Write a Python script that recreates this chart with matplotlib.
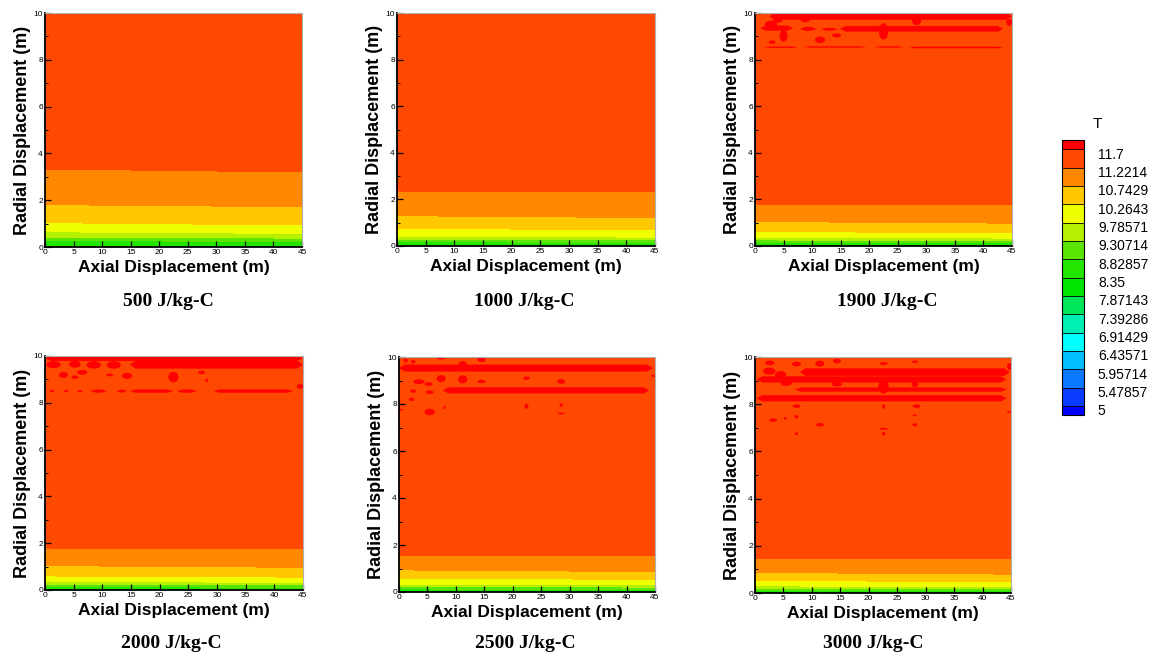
import numpy as np
import matplotlib
matplotlib.use("Agg")
import matplotlib.pyplot as plt
import matplotlib.transforms as mtransforms
from matplotlib.patches import Ellipse

plt.rcParams['font.family'] = ['Liberation Sans', 'DejaVu Sans']

# niveles de contorno y colores (estilo Tecplot)
levels = [5, 5.47857, 5.95714, 6.43571, 6.91429, 7.39286, 7.87143, 8.35,
          8.82857, 9.30714, 9.78571, 10.2643, 10.7429, 11.2214, 11.7]
level_labels = ['5', '5.47857', '5.95714', '6.43571', '6.91429', '7.39286',
                '7.87143', '8.35', '8.82857', '9.30714', '9.78571', '10.2643',
                '10.7429', '11.2214', '11.7']
band_colors = ['#0000ff', '#0a3cff', '#0a78ff', '#00beff', '#00ffff', '#00f0b4',
               '#00e65a', '#00e600', '#22e600', '#5ae600', '#b4f000', '#f0ff00',
               '#ffc800', '#ff8800', '#ff4800', '#ff0000']

cases = ['500 J/kg-C', '1000 J/kg-C', '1900 J/kg-C',
         '2000 J/kg-C', '2500 J/kg-C', '3000 J/kg-C']

# eje axial (m) y temperaturas en las fronteras
x_ends = [0, 45]
crossing_T = [11.2214, 10.7429, 10.2643, 9.78571, 9.30714, 8.82857]
T_wall = 8.6
T_far = 11.5

# alturas (m) donde T cruza cada nivel, en x=0 y x=45
h_left = {
    '500 J/kg-C': [3.33, 1.81, 1.04, 0.65, 0.42, 0.27],
    '1000 J/kg-C': [2.37, 1.30, 0.76, 0.42, 0.30, 0.18],
    '1900 J/kg-C': [1.82, 1.05, 0.62, 0.38, 0.26, 0.15],
    '2000 J/kg-C': [1.81, 1.04, 0.60, 0.36, 0.25, 0.14],
    '2500 J/kg-C': [1.58, 0.94, 0.58, 0.33, 0.23, 0.13],
    '3000 J/kg-C': [1.49, 0.87, 0.53, 0.30, 0.21, 0.12],
}
h_right = {
    '500 J/kg-C': [3.22, 1.72, 0.94, 0.58, 0.38, 0.24],
    '1000 J/kg-C': [2.30, 1.22, 0.69, 0.38, 0.27, 0.16],
    '1900 J/kg-C': [1.75, 0.98, 0.57, 0.34, 0.23, 0.13],
    '2000 J/kg-C': [1.74, 0.97, 0.55, 0.33, 0.22, 0.12],
    '2500 J/kg-C': [1.52, 0.87, 0.54, 0.30, 0.21, 0.11],
    '3000 J/kg-C': [1.42, 0.80, 0.48, 0.28, 0.19, 0.10],
}

# zonas calientes (T > 11.7): franjas (x0, x1, y, alto) y manchas (x, y, ancho, alto)
streaks = {
    '1900 J/kg-C': [(2.5, 45, 9.86, 0.3), (14.9, 43.5, 9.32, 0.24), (0.9, 6.7, 9.35, 0.22),
                    (7.9, 10.8, 9.32, 0.18), (11.5, 14.5, 9.3, 0.12),
                    (1.5, 7.5, 8.53, 0.06), (8.5, 19.5, 8.54, 0.06),
                    (21, 26, 8.54, 0.06), (27, 43.5, 8.52, 0.07)],
    '2000 J/kg-C': [(0, 45, 9.9, 0.22), (14.8, 45, 9.63, 0.34), (7.9, 10.8, 8.5, 0.14),
                    (12.5, 14.3, 8.5, 0.12), (14.8, 22.4, 8.5, 0.14),
                    (23, 26.5, 8.5, 0.14), (29.4, 43.3, 8.5, 0.14)],
    '2500 J/kg-C': [(0, 44.6, 9.53, 0.3), (7.7, 44, 8.58, 0.26)],
    '3000 J/kg-C': [(7.9, 44.8, 9.36, 0.32), (0.3, 44.2, 9.05, 0.26),
                    (7.0, 44.2, 8.62, 0.18), (0.3, 44.2, 8.25, 0.26)],
}
blobs = {
    '1900 J/kg-C': [(22.5, 9.21, 1.6, 0.7), (28.3, 9.68, 1.6, 0.4), (11.4, 8.85, 1.8, 0.28),
                    (5.0, 9.02, 1.4, 0.5), (14.3, 9.04, 1.6, 0.18), (2.8, 9.5, 2.2, 0.35),
                    (4.0, 9.7, 1.6, 0.25), (8.8, 9.75, 1.8, 0.3), (3.0, 8.75, 1.2, 0.15),
                    (44.5, 9.6, 1.0, 0.3)],
    '2000 J/kg-C': [(1.5, 9.63, 2.5, 0.3), (5.2, 9.65, 2.0, 0.3), (8.5, 9.62, 2.5, 0.32),
                    (12.0, 9.62, 2.5, 0.32), (3.2, 9.19, 1.6, 0.25), (5.2, 9.1, 1.2, 0.15),
                    (6.5, 9.3, 1.8, 0.2), (11.3, 9.19, 1.2, 0.12), (14.3, 9.15, 1.8, 0.25),
                    (22.4, 9.1, 1.8, 0.45), (27.3, 9.3, 1.2, 0.15), (28.2, 8.95, 0.5, 0.15),
                    (1.2, 8.5, 0.8, 0.1), (3.7, 8.5, 0.8, 0.1), (6.1, 8.5, 0.8, 0.1),
                    (44.5, 8.7, 1.2, 0.2), (26.5, 9.88, 2.5, 0.3)],
    '2500 J/kg-C': [(7.4, 9.97, 1.6, 0.15), (14.5, 9.9, 1.4, 0.25), (11.2, 9.7, 1.4, 0.25),
                    (2.5, 9.8, 0.8, 0.15), (7.4, 9.08, 1.6, 0.3), (11.2, 9.05, 1.6, 0.35),
                    (14.5, 8.96, 1.4, 0.15), (22.4, 9.1, 1.2, 0.15), (28.5, 8.96, 1.4, 0.2),
                    (3.5, 8.95, 2.0, 0.2), (5.2, 8.85, 1.4, 0.15), (2.5, 8.55, 1.0, 0.15),
                    (5.4, 8.5, 1.4, 0.15), (2.2, 8.2, 1.0, 0.15), (5.4, 7.66, 1.8, 0.28),
                    (0.3, 7.75, 0.8, 0.08), (22.4, 7.9, 0.7, 0.2), (28.5, 7.95, 0.6, 0.15),
                    (28.5, 7.6, 1.2, 0.08), (8.0, 7.85, 0.4, 0.15), (44.8, 9.2, 0.8, 0.1),
                    (1.2, 9.85, 0.8, 0.15)],
    '3000 J/kg-C': [(2.6, 9.75, 1.6, 0.2), (7.3, 9.7, 1.6, 0.2), (11.4, 9.72, 1.6, 0.25),
                    (14.4, 9.83, 1.4, 0.2), (22.6, 9.72, 1.4, 0.12), (28.1, 9.8, 1.2, 0.1),
                    (2.5, 9.4, 2.2, 0.3), (4.5, 9.25, 2.0, 0.3), (5.5, 8.9, 2.0, 0.25),
                    (14.4, 8.85, 1.8, 0.2), (22.6, 8.75, 1.8, 0.6), (28.1, 8.85, 1.2, 0.25),
                    (7.3, 7.92, 1.4, 0.15), (22.6, 7.9, 0.5, 0.2), (28.4, 7.92, 1.4, 0.15),
                    (28.1, 7.53, 0.8, 0.06), (3.2, 7.32, 1.4, 0.15), (5.3, 7.4, 0.5, 0.1),
                    (7.3, 7.47, 0.7, 0.15), (11.4, 7.13, 1.4, 0.15), (28.1, 7.13, 0.9, 0.12),
                    (22.6, 6.96, 1.5, 0.08), (7.3, 6.75, 0.6, 0.12), (22.6, 6.75, 0.6, 0.15),
                    (44.8, 7.67, 1.0, 0.08), (44.8, 9.6, 1.0, 0.3)],
}

# posiciones de los paneles en pixeles: izquierda, arriba, derecha, abajo
W, H = 1158, 661
panel_px = [(45, 13, 302, 247), (397, 13, 655, 246), (755, 13, 1012, 246),
            (45, 356, 303, 590), (399, 357, 655, 592), (755, 357, 1011, 593)]
caption_px = [(168, 301), (524, 301), (887, 301), (171, 643), (525, 643), (873, 643)]

fig = plt.figure(figsize=(W / 100, H / 100), dpi=100)
cs = None
for case, (l, t, r, b), (cx, cy) in zip(cases, panel_px, caption_px):
    ax = fig.add_axes([l / W, 1 - b / H, (r - l) / W, (b - t) / H])

    # malla curvilinea de 2 columnas: filas en las alturas de cruce
    yl = [0] + h_left[case][::-1] + [10]
    yr = [0] + h_right[case][::-1] + [10]
    tz = [T_wall] + crossing_T[::-1] + [T_far]
    X = np.array([x_ends for _ in yl])
    Y = np.column_stack([yl, yr])
    Z = np.column_stack([tz, tz])
    cs = ax.contourf(X, Y, Z, levels=levels, colors=band_colors, extend='both')

    hot = band_colors[-1]
    for x0, x1, yc, hh in streaks.get(case, []):
        tp = min(1.0, (x1 - x0) / 3)
        ax.fill([x0, x0 + tp, x1 - tp, x1, x1 - tp, x0 + tp],
                [yc, yc + hh / 2, yc + hh / 2, yc, yc - hh / 2, yc - hh / 2],
                color=hot, lw=0, clip_on=True)
    for xc, yc, ww, hh in blobs.get(case, []):
        ax.add_patch(Ellipse((xc, yc), ww, hh, color=hot, lw=0, clip_on=True))

    ax.set_xlim(0, 45)
    ax.set_ylim(0, 10)
    ax.set_xticks(np.arange(0, 46, 5))
    ax.set_yticks(np.arange(0, 11, 2))
    ax.set_yticks(np.arange(0, 11, 1), minor=True)
    ax.tick_params(direction='in', length=4, width=0.9, labelsize=6, pad=1.5)
    ax.tick_params(which='minor', direction='in', length=2, width=0.7)
    ax.tick_params(axis='x', which='minor', length=0)
    for side in ['left', 'bottom']:
        ax.spines[side].set_linewidth(1.3)
        ax.spines[side].set_color('black')
    for side in ['top', 'right']:
        ax.spines[side].set_linewidth(0.8)
        ax.spines[side].set_color('#b0b0b0')

    ax.set_xlabel('Axial Displacement (m)', weight='bold', fontsize=12.5, labelpad=2.5)
    ax.set_ylabel('Radial Displacement (m)', weight='bold', fontsize=13, labelpad=2)
    fig.text(cx / W, 1 - cy / H, case, family='Liberation Serif', weight='bold',
             fontsize=14, ha='center', va='center')

# barra de colores
cax = fig.add_axes([1062 / W, 1 - 415 / H, 22 / W, 275 / H])
cb = fig.colorbar(cs, cax=cax, extend='both', extendrect=True,
                  extendfrac=0.5 / 14, drawedges=True)
cb.set_ticks(levels)
cb.set_ticklabels(level_labels)
cb.outline.set_linewidth(0.8)
cb.dividers.set_linewidth(0.6)
cax.tick_params(length=0, labelsize=10, pad=10)
for lab in cax.get_yticklabels():
    lab.set_transform(lab.get_transform() +
                      mtransforms.ScaledTranslation(0, -4 / 100, fig.dpi_scale_trans))
fig.text(1097 / W, 1 - 124 / H, 'T', fontsize=11, ha='center', va='center')

fig.savefig('out.png', dpi=100)
